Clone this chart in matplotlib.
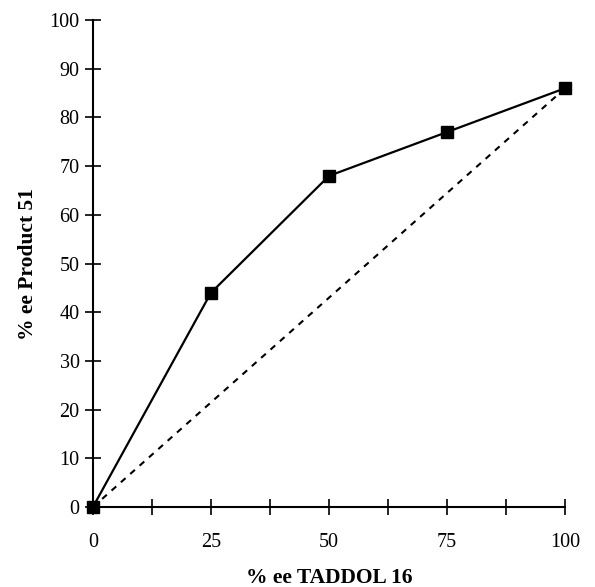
import matplotlib
matplotlib.use("Agg")
import matplotlib.pyplot as plt
from matplotlib.ticker import MultipleLocator

ee_taddol = [0, 25, 50, 75, 100]
ee_product = [0, 44, 68, 77, 86]
linear_x = [0, 100]
linear_y = [0, 86]

plt.rcParams['font.family'] = ['Liberation Serif', 'DejaVu Serif']

fig = plt.figure(figsize=(5.95, 5.87), dpi=100)
ax = fig.add_axes([0.156, 0.136, 0.794, 0.830])

ax.plot(linear_x, linear_y, color='black', linestyle=(0, (3, 3)), linewidth=1.5, clip_on=False)
ax.plot(ee_taddol, ee_product, color='black', linewidth=1.6, marker='s', markersize=8, clip_on=False, zorder=3)

ax.set_xlim(0, 100)
ax.set_ylim(0, 100)
ax.xaxis.set_major_locator(MultipleLocator(25))
ax.xaxis.set_minor_locator(MultipleLocator(12.5))
ax.yaxis.set_major_locator(MultipleLocator(10))

for s in ['top', 'right']:
    ax.spines[s].set_visible(False)
for s in ['left', 'bottom']:
    ax.spines[s].set_linewidth(1.5)

ax.tick_params(axis='both', which='both', direction='inout', length=11, width=1.2, labelsize=14.5)
ax.tick_params(axis='x', which='major', pad=13)
ax.tick_params(axis='y', which='major', pad=4)

ax.set_xlabel('% ee TADDOL 16', fontsize=15.5, fontweight='bold')
ax.xaxis.set_label_coords(0.5, -0.125)
ax.set_ylabel('% ee Product 51', fontsize=15.5, fontweight='bold', labelpad=8)

fig.savefig('out.png', dpi=100)
